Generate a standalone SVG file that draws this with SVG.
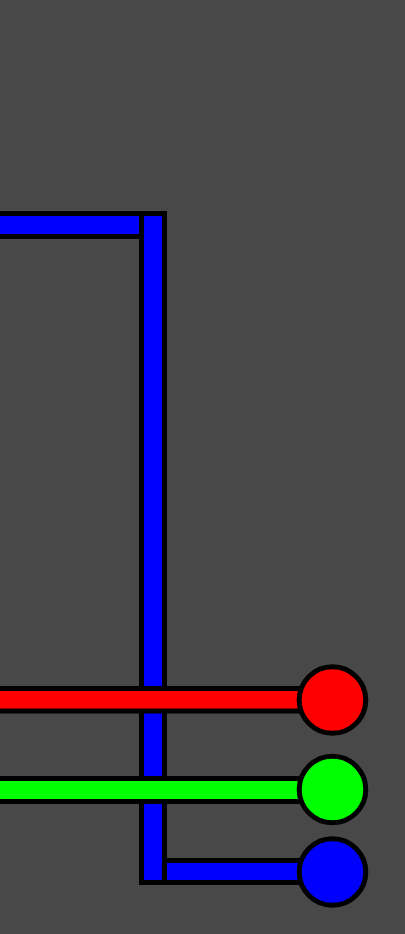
<svg xmlns="http://www.w3.org/2000/svg" width="405" height="934" viewBox="0 0 405 934">
<style>
.seg{stroke:#000;stroke-width:5}
.node{stroke:#000;stroke-width:5}
.b{fill:#0000ff}.r{fill:#ff0000}.g{fill:#00ff00}
</style>
<rect x="0" y="0" width="405" height="934" fill="#484848"/>
<g id="connectors">
<rect class="seg b" x="-10" y="213.5" width="174.5" height="23"/>
<rect class="seg b" x="141.5" y="213.5" width="23" height="669"/>
<rect class="seg b" x="164.5" y="860.5" width="150" height="22"/>
<rect class="seg r" x="-10" y="688.5" width="320" height="22.5"/>
<rect class="seg g" x="-10" y="778.5" width="320" height="23"/>
</g>
<g id="node-red"><circle class="node r" cx="332.5" cy="700" r="33.3"/></g>
<g id="node-green"><circle class="node g" cx="332.5" cy="789.5" r="33.3"/></g>
<g id="node-blue"><circle class="node b" cx="332.5" cy="872" r="33.3"/></g>
</svg>
